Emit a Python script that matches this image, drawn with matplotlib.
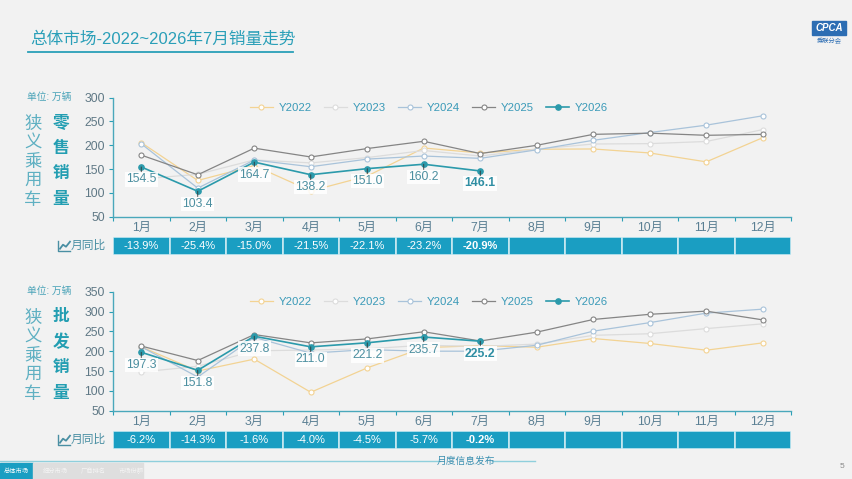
import matplotlib
matplotlib.use("Agg")
import matplotlib.pyplot as plt
from matplotlib.lines import Line2D
from matplotlib.patches import Rectangle

plt.rcParams['font.family'] = ['Liberation Sans', 'Noto Sans CJK SC', 'DejaVu Sans']

# --- données ---
months = ['1月', '2月', '3月', '4月', '5月', '6月', '7月', '8月', '9月', '10月', '11月', '12月']
years = ['Y2022', 'Y2023', 'Y2024', 'Y2025', 'Y2026']

retail_2022 = [205.6, 126.1, 157.2, 104.2, 135.4, 194.3, 183.9, 191.7, 192.3, 183.9, 165.2, 216.0]
retail_2023 = [129.4, 139.0, 169.3, 163.0, 174.2, 189.1, 177.4, 192.0, 202.7, 203.5, 208.0, 233.0]
retail_2024 = [203.2, 110.0, 169.1, 155.0, 171.0, 177.5, 172.6, 190.5, 210.5, 226.8, 242.3, 262.0]
retail_2025 = [179.4, 138.1, 194.0, 175.5, 193.2, 208.4, 182.6, 200.0, 223.0, 225.5, 221.0, 223.0]
retail_2026 = [154.5, 103.4, 164.7, 138.2, 151.0, 160.2, 146.1]
retail_yoy = ['-13.9%', '-25.4%', '-15.0%', '-21.5%', '-22.1%', '-23.2%', '-20.9%']

wholesale_2022 = [211.0, 150.0, 180.0, 96.5, 158.0, 209.0, 214.0, 210.0, 232.0, 219.5, 202.5, 221.0]
wholesale_2023 = [147.6, 162.0, 201.0, 203.0, 206.0, 215.0, 212.0, 218.0, 240.0, 244.0, 257.0, 269.0]
wholesale_2024 = [211.0, 135.0, 235.0, 195.0, 204.0, 200.0, 200.0, 215.0, 250.5, 272.0, 296.0, 306.0]
wholesale_2025 = [213.0, 176.5, 242.0, 221.0, 231.0, 249.0, 225.7, 248.0, 280.0, 293.0, 301.0, 279.0]
wholesale_2026 = [197.3, 151.8, 237.8, 211.0, 221.2, 235.7, 225.2]
wholesale_yoy = ['-6.2%', '-14.3%', '-1.6%', '-4.0%', '-4.5%', '-5.7%', '-0.2%']

colors = ['#f3d393', '#dcdcdc', '#a9c3da', '#858585', '#2b9aab']
teal = '#2a9fb6'
tick_col = '#5f7885'
cell_col = '#1a9ec2'

W, H = 852, 479
fig = plt.figure(figsize=(W / 100, H / 100), dpi=100, facecolor='#f2f2f2')


def fx(px):
    return px / W


def fy(py):
    return 1 - py / H


def tracer_panel(top_px, series, last, yoy, ymin, ymax, step, titre):
    ax = fig.add_axes([fx(113), fy(top_px + 119), fx(678), 119 / H])
    ax.set_facecolor('none')
    x = [i + 0.5 for i in range(12)]
    for name, vals, c in zip(years[:4], series, colors[:4]):
        ax.plot(x[:len(vals)], vals, color=c, lw=0.9, marker='o', ms=3.6,
                mfc='white', mec=c, mew=0.8, label=name, zorder=2)
    ax.plot(x[:len(last)], last, color=colors[4], lw=1.2, marker='o', ms=3.8,
            mfc=colors[4], mec=colors[4], label=years[4], zorder=3)
    for i, v in enumerate(last):
        bold = i == len(last) - 1
        ax.annotate(f'{v:.1f}', (x[i], v), xytext=(0, -9), textcoords='offset points',
                    ha='center', va='center', fontsize=8.8,
                    color='#2f8ea3' if bold else '#4c8fa0',
                    fontweight='bold' if bold else 'normal',
                    bbox=dict(boxstyle='square,pad=0.1', fc='white', ec='none', alpha=0.85),
                    arrowprops=dict(arrowstyle='-', color='#333333', lw=0.6,
                                    shrinkA=0, shrinkB=0, relpos=(0.5, 1.0)),
                    zorder=4)
    ax.set_xlim(0, 12)
    ax.set_ylim(ymin, ymax)
    ax.set_yticks(range(ymin, ymax + 1, step))
    ax.set_xticks(range(13))
    ax.set_xticklabels([])
    ax.set_xticks(x, minor=True)
    ax.set_xticklabels(months, minor=True)
    ax.tick_params(axis='x', which='major', length=3, color=teal, direction='out')
    ax.tick_params(axis='x', which='minor', length=0, pad=4, labelsize=8.8, labelcolor='#5a7f93')
    ax.tick_params(axis='y', length=3, color=teal, labelsize=8.8, labelcolor=tick_col, pad=3)
    for s in ['top', 'right']:
        ax.spines[s].set_visible(False)
    for s in ['left', 'bottom']:
        ax.spines[s].set_color('#4aa8bb')
        ax.spines[s].set_linewidth(1.0)
    leg = ax.legend(ncol=5, loc='upper center', bbox_to_anchor=(0.466, 1.04), frameon=False,
                    fontsize=8.2, handlelength=2.0, columnspacing=1.1, handletextpad=0.5)
    for t in leg.get_texts():
        t.set_color('#3a9ab8')

    # rangée "月同比"
    tb = fig.add_axes([fx(113), fy(top_px + 157), fx(678), 17.5 / H])
    tb.set_xlim(0, 12)
    tb.set_ylim(0, 1)
    tb.axis('off')
    tb.bar(x, [1] * 12, width=1, color=cell_col, edgecolor='#c9e9f1', linewidth=1.2)
    for i, t in enumerate(yoy):
        tb.text(x[i], 0.5, t, ha='center', va='center', fontsize=8, color='white',
                fontweight='bold' if i == len(yoy) - 1 else 'normal')
    fig.text(fx(106), fy(top_px + 148), '月同比', ha='right', va='center', fontsize=8.5,
             color='#4a8fa3')
    # petite icône de courbe
    bx, by = 58, top_px + 153
    fig.add_artist(Line2D([fx(bx), fx(bx), fx(bx + 12)], [fy(by - 10), fy(by), fy(by)],
                          color='#4a8fa3', lw=1.0))
    fig.add_artist(Line2D([fx(bx + 2), fx(bx + 5), fx(bx + 8), fx(bx + 12)],
                          [fy(by - 2), fy(by - 6), fy(by - 4), fy(by - 9)],
                          color='#4a8fa3', lw=1.3))

    # textes de gauche
    fig.text(fx(49), fy(top_px - 1), '单位: 万辆', ha='center', va='center', fontsize=7,
             color='#4aa3b8')
    for k, ch in enumerate('狭义乘用车'):
        fig.text(fx(33), fy(top_px + 26 + k * 19), ch, ha='center', va='center', fontsize=12.5,
                 color='#5fb0c2')
    for k, ch in enumerate(titre):
        fig.text(fx(61), fy(top_px + 25 + k * 25.5), ch, ha='center', va='center', fontsize=12,
                 color='#239eb2', fontweight='bold')
    return ax


tracer_panel(97.7, [retail_2022, retail_2023, retail_2024, retail_2025], retail_2026,
             retail_yoy, 50, 300, 50, '零售销量')
tracer_panel(291.7, [wholesale_2022, wholesale_2023, wholesale_2024, wholesale_2025], wholesale_2026,
             wholesale_yoy, 50, 350, 50, '批发销量')

# titre
fig.text(fx(30), fy(39), '总体市场-2022~2026年7月销量走势', ha='left', va='center', fontsize=12,
         color='#2a9fb8')
fig.add_artist(Line2D([fx(28), fx(293)], [fy(51.5), fy(51.5)], color='#2a9fb8', lw=1.3))

# logo CPCA
fig.add_artist(Rectangle((fx(812), fy(35)), fx(34), 14 / H, color='#2c6db3'))
fig.text(fx(829), fy(28), 'CPCA', ha='center', va='center', fontsize=7, fontstyle='italic',
         fontweight='bold', color='white')
fig.text(fx(829), fy(41), '乘联分会', ha='center', va='center', fontsize=4.5, color='#2c6db3')

# pied de page
fig.add_artist(Line2D([fx(0), fx(440)], [fy(461), fy(461)], color='#8fcfdc', lw=1.0))
fig.add_artist(Line2D([fx(492), fx(535)], [fy(461), fy(461)], color='#8fcfdc', lw=1.0))
fig.text(fx(466), fy(461), '月度信息发布', ha='center', va='center', fontsize=7,
         fontstyle='italic', color='#3a8fb0')
fig.add_artist(Rectangle((fx(0), fy(479)), fx(33), 16 / H, color=cell_col))
fig.add_artist(Rectangle((fx(33), fy(479)), fx(110), 16 / H, color='#dedede'))
fig.text(fx(16.5), fy(471), '总体市场', ha='center', va='center', fontsize=4.5, color='white')
for k, t in enumerate(['细分市场', '厂商排名', '市场份额']):
    fig.text(fx(55 + k * 38), fy(471), t, ha='center', va='center', fontsize=4.5, color='#f4f4f4')
fig.text(fx(842), fy(467), '5', ha='center', va='center', fontsize=6, color='#888888')

fig.savefig('out.png', dpi=100, facecolor=fig.get_facecolor())
